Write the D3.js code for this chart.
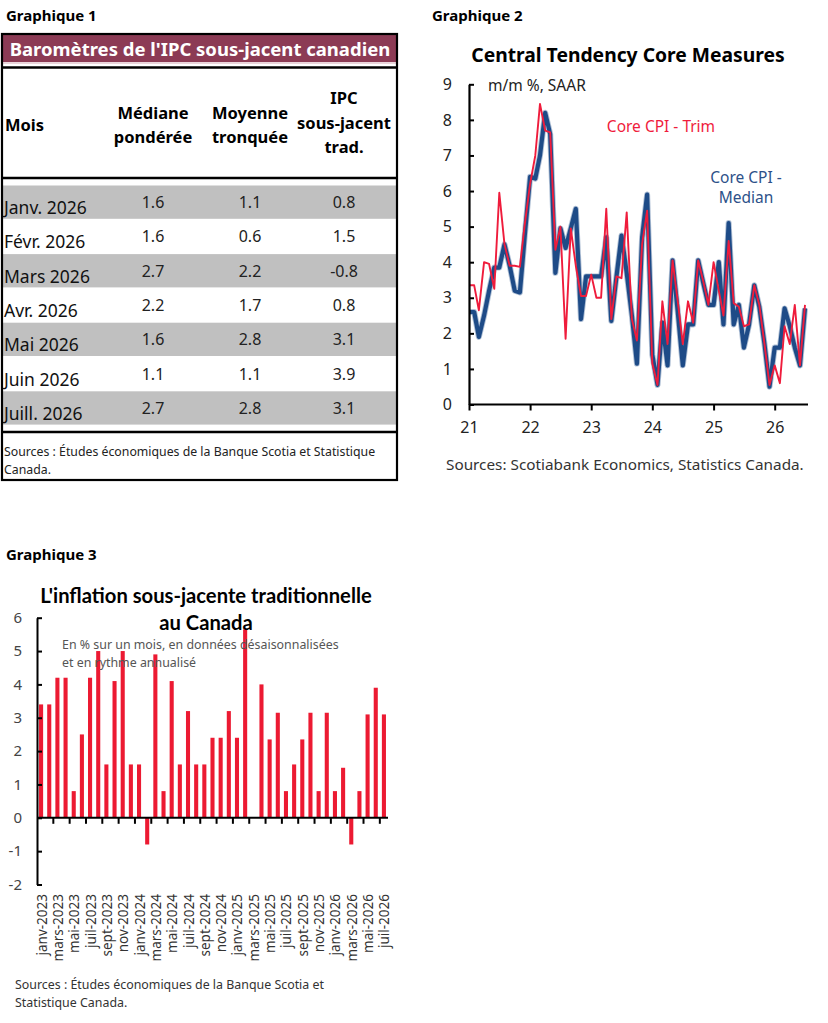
<!DOCTYPE html>
<html>
<head>
<meta charset="utf-8">
<script src="https://cdn.jsdelivr.net/npm/d3@7"></script>
<style>
body { margin: 0; background: #fff; }
svg { display: block; font-family: 'Noto Sans', sans-serif; }
</style>
</head>
<body>
<svg id="page" width="828" height="1023"></svg>
<script>
// ---- Graphique 1 : tableau
var tableMonths = ['Janv. 2026', 'Févr. 2026', 'Mars 2026', 'Avr. 2026', 'Mai 2026', 'Juin 2026', 'Juill. 2026'];
var medianePonderee = [1.6, 1.6, 2.7, 2.2, 1.6, 1.1, 2.7];
var moyenneTronquee = [1.1, 0.6, 2.2, 1.7, 2.8, 1.1, 2.8];
var ipcTrad = [0.8, 1.5, -0.8, 0.8, 3.1, 3.9, 3.1];

// ---- Graphique 2 : m/m %, SAAR, janv. 2021 -> juil. 2026
var coreMedian = [
  2.6, 2.6, 1.9, 2.5, 3.2, 3.85, 3.85, 4.5, 3.9, 3.2, 3.15, 4.8,
  6.4, 6.35, 7.0, 8.2, 7.6, 3.7, 4.95, 4.4, 4.95, 5.5, 2.4, 3.6,
  3.6, 3.6, 3.6, 4.7, 2.35, 3.6, 4.75, 3.7, 2.5, 1.15, 4.7, 5.9,
  1.4, 0.55, 2.3, 1.1, 4.05, 2.6, 1.1, 2.25, 2.25, 4.05, 3.4, 2.8,
  2.8, 4.0, 2.25, 5.1, 2.25, 2.8, 1.6, 2.25, 3.35, 2.75, 1.7, 0.5,
  1.6, 1.6, 2.7, 2.2, 1.6, 1.1, 2.7
];
var coreTrim = [
  3.35, 3.35, 2.65, 4.0, 3.95, 3.25, 5.95, 4.5, 3.9, 3.9, 3.87, 5.1,
  6.2, 7.0, 8.45, 7.7, 7.65, 4.35, 5.0, 1.85, 4.95, 3.9, 3.05, 3.05,
  3.65, 3.0, 3.0, 5.5, 2.4, 3.6, 3.55, 5.4, 2.4, 1.8, 4.5, 5.45,
  1.15, 0.55, 2.9, 1.7, 4.05, 2.9, 1.7, 2.9, 2.3, 4.05, 3.45, 2.8,
  4.0, 3.2, 2.5, 4.6, 2.85, 2.75, 2.2, 2.25, 3.35, 2.8, 1.7, 0.55,
  1.1, 0.6, 2.2, 1.7, 2.8, 1.1, 2.8
];
var lineTicksY = [0, 1, 2, 3, 4, 5, 6, 7, 8, 9];

// ---- Graphique 3 : IPC sous-jacent traditionnel
var barMonths = [
  'janv-2023', 'févr-2023', 'mars-2023', 'avr-2023', 'mai-2023', 'juin-2023', 'juil-2023', 'août-2023', 'sept-2023', 'oct-2023', 'nov-2023', 'déc-2023',
  'janv-2024', 'févr-2024', 'mars-2024', 'avr-2024', 'mai-2024', 'juin-2024', 'juil-2024', 'août-2024', 'sept-2024', 'oct-2024', 'nov-2024', 'déc-2024',
  'janv-2025', 'févr-2025', 'mars-2025', 'avr-2025', 'mai-2025', 'juin-2025', 'juil-2025', 'août-2025', 'sept-2025', 'oct-2025', 'nov-2025', 'déc-2025',
  'janv-2026', 'févr-2026', 'mars-2026', 'avr-2026', 'mai-2026', 'juin-2026', 'juil-2026'
];
var tradCore = [
  3.4, 3.4, 4.2, 4.2, 0.8, 2.5, 4.2, 5.0, 1.6, 4.1, 5.0, 1.6,
  1.6, -0.8, 4.9, 0.8, 4.1, 1.6, 3.2, 1.6, 1.6, 2.4, 2.4, 3.2,
  2.4, 5.65, 0, 4.0, 2.35, 3.15, 0.8, 1.6, 2.35, 3.15, 0.8, 3.15,
  0.8, 1.5, -0.8, 0.8, 3.1, 3.9, 3.1
];
var barTicksY = [-2, -1, 0, 1, 2, 3, 4, 5, 6];

var svg = d3.select('#page');
// trait d'union simple, comme dans l'original
var fmt = function(v) { return d3.format('.1f')(v).replace('\u2212', '-'); };

// ================= Graphique 1 =================
svg.append('text').attr('x', 6).attr('y', 21)
  .attr('font-size', 15).attr('font-weight', 'bold').text('Graphique 1');

var tb = svg.append('g').attr('class', 'table');
var tLeft = 2, tRight = 397;
tb.append('rect').attr('x', tLeft + 1).attr('y', 35).attr('width', tRight - tLeft - 2).attr('height', 27)
  .attr('fill', '#8c3b55');
tb.append('line').attr('x1', tLeft).attr('x2', tRight).attr('y1', 63).attr('y2', 63)
  .attr('stroke', '#e3c9d1').attr('stroke-width', 1.5);
tb.append('text').attr('x', 200).attr('y', 55.5).attr('text-anchor', 'middle')
  .attr('fill', '#fff').attr('font-size', 18.5).attr('font-weight', 'bold')
  .text("Baromètres de l'IPC sous-jacent canadien");

var colX = [153, 250, 344];
var headers = [['Médiane', 'pondérée'], ['Moyenne', 'tronquée'], ['IPC', 'sous-jacent', 'trad.']];
tb.append('text').attr('x', 5).attr('y', 131).attr('font-size', 16.5).attr('font-weight', 'bold').text('Mois');
headers.forEach(function(lines, c) {
  var y0 = lines.length === 2 ? 118.5 : 104;
  lines.forEach(function(s, k) {
    tb.append('text').attr('x', colX[c]).attr('y', y0 + k * 24.5).attr('text-anchor', 'middle')
      .attr('font-size', 16.5).attr('font-weight', 'bold').text(s);
  });
});

var rowTop = 185, rowH = 34.3;
var rows = tb.selectAll('.row').data(tableMonths).enter().append('g').attr('class', 'row')
  .attr('transform', function(d, i) { return 'translate(0,' + (rowTop + i * rowH) + ')'; });
rows.append('rect').attr('x', tLeft + 1).attr('y', 0.5).attr('width', tRight - tLeft - 2).attr('height', rowH - 1)
  .attr('fill', function(d, i) { return i % 2 === 0 ? '#c0c0c0' : '#fff'; });
rows.append('text').attr('x', 4).attr('y', 29).attr('font-size', 17.5).attr('fill', '#111').text(function(d) { return d; });
[medianePonderee, moyenneTronquee, ipcTrad].forEach(function(arr, c) {
  rows.append('text').attr('x', colX[c]).attr('y', 23).attr('text-anchor', 'middle')
    .attr('font-size', 16).attr('fill', '#222')
    .text(function(d, i) { return fmt(arr[i]); });
});

[67.5, 178, 432].forEach(function(y) {
  tb.append('line').attr('x1', tLeft).attr('x2', tRight).attr('y1', y).attr('y2', y)
    .attr('stroke', '#000').attr('stroke-width', 2.5);
});
tb.append('text').attr('x', 4).attr('y', 456).attr('font-size', 12.3).attr('fill', '#222')
  .text('Sources : Études économiques de la Banque Scotia et Statistique');
tb.append('text').attr('x', 4).attr('y', 474).attr('font-size', 12.3).attr('fill', '#222').text('Canada.');
tb.append('rect').attr('x', tLeft).attr('y', 34).attr('width', tRight - tLeft).attr('height', 446)
  .attr('fill', 'none').attr('stroke', '#000').attr('stroke-width', 2.2);

// ================= Graphique 2 =================
svg.append('text').attr('x', 432).attr('y', 21)
  .attr('font-size', 15).attr('font-weight', 'bold').text('Graphique 2');
svg.append('text').attr('x', 628).attr('y', 62).attr('text-anchor', 'middle')
  .attr('font-size', 19.3).attr('font-weight', 'bold').text('Central Tendency Core Measures');

var lineDates = d3.timeMonth.range(new Date(2021, 0, 1), new Date(2026, 7, 1));
var xl = d3.scaleTime().domain([lineDates[0], lineDates[lineDates.length - 1]]).range([469, 805]);
var yl = d3.scaleLinear().domain([0, 9]).range([404.5, 84.3]);

var g2 = svg.append('g').attr('class', 'chart2');

var lineGen = function(series) {
  return d3.line()
    .x(function(d, i) { return xl(lineDates[i]); })
    .y(function(d) { return yl(d); })(series);
};

g2.append('path').attr('d', lineGen(coreMedian))
  .attr('fill', 'none').attr('stroke', '#1e4b87').attr('stroke-opacity', 0.35).attr('stroke-width', 6)
  .attr('stroke-linejoin', 'round');
g2.append('path').attr('d', lineGen(coreMedian))
  .attr('fill', 'none').attr('stroke', '#1e4b87').attr('stroke-width', 4.2)
  .attr('stroke-linejoin', 'round');
g2.append('path').attr('d', lineGen(coreTrim))
  .attr('fill', 'none').attr('stroke', '#ef1c3c').attr('stroke-width', 1.9)
  .attr('stroke-linejoin', 'round');

var yAxis2 = g2.append('g').attr('transform', 'translate(469,0)')
  .call(d3.axisLeft(yl).tickValues(lineTicksY).tickFormat(d3.format('d'))
    .tickSizeInner(-5).tickSizeOuter(0).tickPadding(17));
var xAxis2 = g2.append('g').attr('transform', 'translate(0,404.5)')
  .call(d3.axisBottom(xl).ticks(d3.timeYear.every(1)).tickFormat(d3.timeFormat('%y'))
    .tickSizeInner(6).tickSizeOuter(0).tickPadding(11));
xAxis2.select('.domain').attr('d', 'M469,0H808');
[yAxis2, xAxis2].forEach(function(a) {
  a.select('.domain').attr('stroke', '#000').attr('stroke-width', 2.2);
  a.selectAll('.tick line').attr('stroke', '#000').attr('stroke-width', 2);
  a.selectAll('.tick text').attr('font-family', "'Noto Sans', sans-serif").attr('font-size', 16).attr('fill', '#222');
});

g2.append('text').attr('x', 488).attr('y', 91).attr('font-size', 15.5).attr('fill', '#222').text('m/m %, SAAR');
g2.append('text').attr('x', 661).attr('y', 132).attr('text-anchor', 'middle')
  .attr('font-size', 15.5).attr('fill', '#ef1c3c').text('Core CPI - Trim');
g2.append('text').attr('x', 746).attr('y', 183).attr('text-anchor', 'middle')
  .attr('font-size', 15.5).attr('fill', '#2d5189').text('Core CPI -');
g2.append('text').attr('x', 746).attr('y', 203).attr('text-anchor', 'middle')
  .attr('font-size', 15.5).attr('fill', '#2d5189').text('Median');
g2.append('text').attr('x', 446).attr('y', 470).attr('font-size', 15.3).attr('fill', '#333')
  .text('Sources: Scotiabank Economics, Statistics Canada.');

// ================= Graphique 3 =================
svg.append('text').attr('x', 6).attr('y', 560)
  .attr('font-size', 15).attr('font-weight', 'bold').text('Graphique 3');

var g3 = svg.append('g').attr('class', 'chart3');
var xb = d3.scaleBand().domain(barMonths).range([37, 388]).paddingInner(0.5).paddingOuter(0.25);
var yb = d3.scaleLinear().domain([-2, 6]).range([884.5, 617.7]);

g3.selectAll('.bar').data(tradCore).enter().append('rect').attr('class', 'bar')
  .attr('x', function(d, i) { return xb(barMonths[i]); })
  .attr('width', xb.bandwidth())
  .attr('y', function(d) { return yb(Math.max(0, d)); })
  .attr('height', function(d) { return Math.abs(yb(d) - yb(0)); })
  .attr('fill', '#ec1a32');

// titre et sous-titre par-dessus les barres
g3.append('text').attr('x', 206).attr('y', 603).attr('text-anchor', 'middle')
  .attr('font-family', 'Lato, sans-serif').attr('font-size', 20.2).attr('font-weight', 'bold')
  .text("L'inflation sous-jacente traditionnelle");
g3.append('text').attr('x', 206).attr('y', 630).attr('text-anchor', 'middle')
  .attr('font-family', 'Lato, sans-serif').attr('font-size', 20.2).attr('font-weight', 'bold')
  .text('au Canada');
g3.append('text').attr('x', 62).attr('y', 649).attr('font-size', 12.4).attr('fill', '#555')
  .text('En % sur un mois, en données désaisonnalisées');
g3.append('text').attr('x', 62).attr('y', 667).attr('font-size', 12.4).attr('fill', '#555')
  .text('et en rythme annualisé');

var yAxis3 = g3.append('g').attr('transform', 'translate(37,0)')
  .call(d3.axisLeft(yb).tickValues(barTicksY).tickFormat(d3.format('d'))
    .tickSizeInner(-5).tickSizeOuter(0).tickPadding(15));
yAxis3.select('.domain').attr('stroke', '#000').attr('stroke-width', 2);
yAxis3.selectAll('.tick line').attr('stroke', '#000').attr('stroke-width', 2);
yAxis3.selectAll('.tick text').attr('font-family', "'Noto Sans', sans-serif").attr('font-size', 15).attr('fill', '#444')
  .text(function(d) { return d < 0 ? '-' + Math.abs(d) : d; });

// axe horizontal à zéro, graduations toutes les deux barres
var boundary = function(i) { return xb(barMonths[i]) - xb.step() * xb.paddingInner() / 2; };
g3.append('line').attr('x1', 37).attr('x2', 388).attr('y1', yb(0)).attr('y2', yb(0))
  .attr('stroke', '#000').attr('stroke-width', 2);
var tickIdx = d3.range(2, barMonths.length, 2);
g3.selectAll('.xtick').data(tickIdx).enter().append('line')
  .attr('x1', function(i) { return boundary(i); }).attr('x2', function(i) { return boundary(i); })
  .attr('y1', yb(0)).attr('y2', yb(0) + 6)
  .attr('stroke', '#000').attr('stroke-width', 2);

var labelIdx = d3.range(0, barMonths.length, 2);
g3.selectAll('.xlab').data(labelIdx).enter().append('text')
  .attr('transform', function(i) {
    return 'translate(' + (xb(barMonths[i]) + xb.bandwidth() / 2 + 5.5) + ',894) rotate(-90)';
  })
  .attr('text-anchor', 'end').attr('font-size', 13.5).attr('fill', '#333')
  .text(function(i) { return barMonths[i]; });

g3.append('text').attr('x', 15).attr('y', 989).attr('font-size', 12.4).attr('fill', '#333')
  .text('Sources : Études économiques de la Banque Scotia et');
g3.append('text').attr('x', 15).attr('y', 1007).attr('font-size', 12.4).attr('fill', '#333')
  .text('Statistique Canada.');
</script>
</body>
</html>
